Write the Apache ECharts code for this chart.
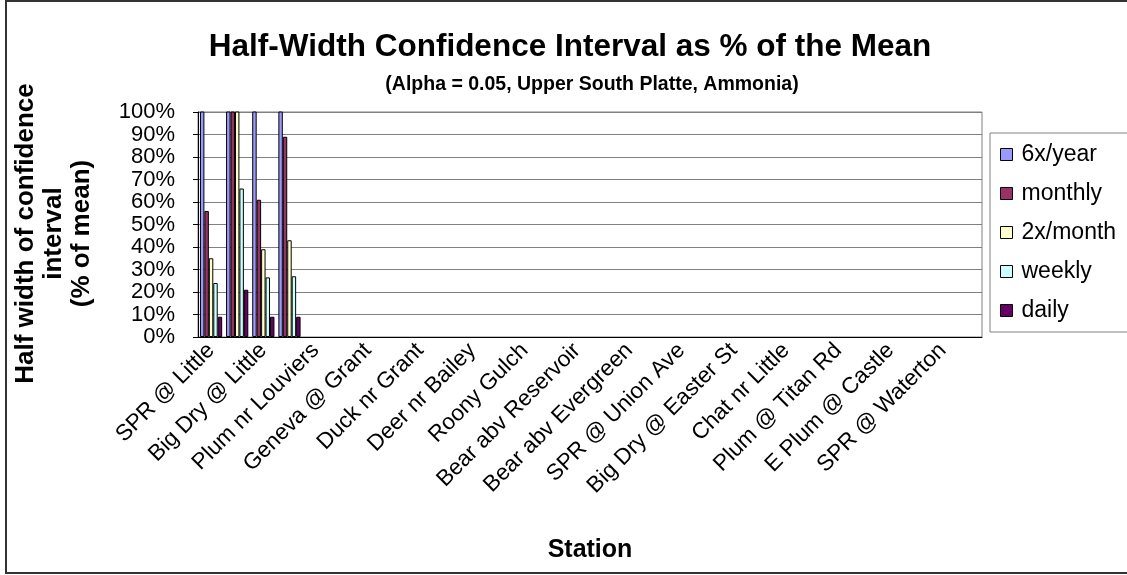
<!DOCTYPE html>
<html>
<head>
<meta charset="utf-8">
<script src="https://cdn.jsdelivr.net/npm/echarts@6/dist/echarts.min.js"></script>
<style>
  html, body { margin: 0; padding: 0; background: #fff; }
  #chart { width: 1127px; height: 575px; }
</style>
</head>
<body>
<div id="chart"></div>
<script>
// 30 category slots, only every other one carries a station label
const categories = [
  'SPR @ Little', '', 'Big Dry @ Little', '', 'Plum nr Louviers', '',
  'Geneva @ Grant', '', 'Duck nr Grant', '', 'Deer nr Bailey', '',
  'Roony Gulch', '', 'Bear abv Reservoir', '', 'Bear abv Evergreen', '',
  'SPR @ Union Ave', '', 'Big Dry @ Easter St', '', 'Chat nr Little', '',
  'Plum @ Titan Rd', '', 'E Plum @ Castle', '', 'SPR @ Waterton', ''
]

const seriesNames = ['6x/year', 'monthly', '2x/month', 'weekly', 'daily']
const seriesColors = ['#9999ff', '#993366', '#ffffcc', '#ccffff', '#660066']

// fractions of the mean; values above 1 run off the top of the plot
const sixPerYear = [1.5, 1.5, 1.5, 1.5]
const monthly = [0.56, 1.5, 0.61, 0.89]
const twicePerMonth = [0.35, 1.5, 0.39, 0.43]
const weekly = [0.24, 0.66, 0.265, 0.27]
const daily = [0.09, 0.21, 0.09, 0.09]

const yTicks = [0, 0.1, 0.2, 0.3, 0.4, 0.5, 0.6, 0.7, 0.8, 0.9, 1]

const chart = echarts.init(document.getElementById('chart'))

const font = 'Liberation Sans, Arial, sans-serif'

function pad (arr) {
  const out = categories.map(() => null)
  arr.forEach((v, i) => { out[i] = v })
  return out
}

const allData = [sixPerYear, monthly, twicePerMonth, weekly, daily]

chart.setOption({
  animation: false,
  backgroundColor: '#fff',
  textStyle: { fontFamily: font },
  title: [
    {
      text: 'Half-Width Confidence Interval as % of the Mean',
      left: 565,
      top: 26,
      textAlign: 'center',
      textStyle: { fontFamily: font, fontSize: 31.5, fontWeight: 'bold', color: '#000' }
    },
    {
      text: '(Alpha = 0.05, Upper South Platte, Ammonia)',
      left: 587,
      top: 70,
      textAlign: 'center',
      textStyle: { fontFamily: font, fontSize: 19.5, fontWeight: 'bold', color: '#000' }
    }
  ],
  graphic: [
    {
      type: 'rect',
      shape: { x: 6, y: 1, width: 1140, height: 572 },
      style: { fill: 'none', stroke: '#333', lineWidth: 2 },
      silent: true
    }
  ],
  legend: {
    data: seriesNames,
    orient: 'vertical',
    left: 990,
    top: 133,
    padding: [10, 40, 10, 10],
    itemGap: 16,
    itemWidth: 12,
    itemHeight: 12,
    icon: 'rect',
    borderColor: '#808080',
    borderWidth: 1,
    itemStyle: { borderColor: '#000', borderWidth: 1 },
    textStyle: { fontFamily: font, fontSize: 23, color: '#000', padding: [0, 0, 0, 4] }
  },
  grid: {
    left: 198,
    right: 145,
    top: 112,
    bottom: 238,
    show: true,
    borderColor: '#808080',
    borderWidth: 1
  },
  xAxis: {
    type: 'category',
    data: categories,
    name: 'Station',
    nameLocation: 'middle',
    nameGap: 201,
    nameTextStyle: { fontFamily: font, fontSize: 25, fontWeight: 'bold', color: '#000' },
    axisLine: { lineStyle: { color: '#000', width: 1 } },
    axisTick: { length: 6, lineStyle: { color: '#000' } },
    axisLabel: {
      interval: 0,
      rotate: 45,
      margin: 10,
      fontFamily: font,
      fontSize: 22.5,
      color: '#000'
    }
  },
  yAxis: {
    type: 'value',
    min: 0,
    max: 1,
    interval: 0.1,
    name: 'Half width of confidence\ninterval\n(% of mean)',
    nameLocation: 'middle',
    nameGap: 102,
    nameTextStyle: {
      fontFamily: font,
      fontSize: 26,
      fontWeight: 'bold',
      color: '#000',
      lineHeight: 28,
      padding: [0, 18, 0, 0]
    },
    axisLine: { show: true, lineStyle: { color: '#000', width: 1 } },
    axisTick: { show: true, length: 5, lineStyle: { color: '#000' } },
    axisLabel: {
      margin: 23,
      fontFamily: font,
      fontSize: 22,
      lineHeight: 20,
      color: '#000',
      showMinLabel: true,
      showMaxLabel: true,
      hideOverlap: false,
      formatter: v => yTicks.includes(Math.round(v * 10) / 10) ? Math.round(v * 100) + '%' : ''
    },
    splitLine: { lineStyle: { color: '#808080', width: 1 } }
  },
  series: seriesNames.map((name, i) => ({
    name: name,
    type: 'bar',
    data: pad(allData[i]),
    barGap: '0%',
    barCategoryGap: '15%',
    clip: true,
    itemStyle: { color: seriesColors[i], borderColor: '#000', borderWidth: 1 }
  }))
})
</script>
</body>
</html>
